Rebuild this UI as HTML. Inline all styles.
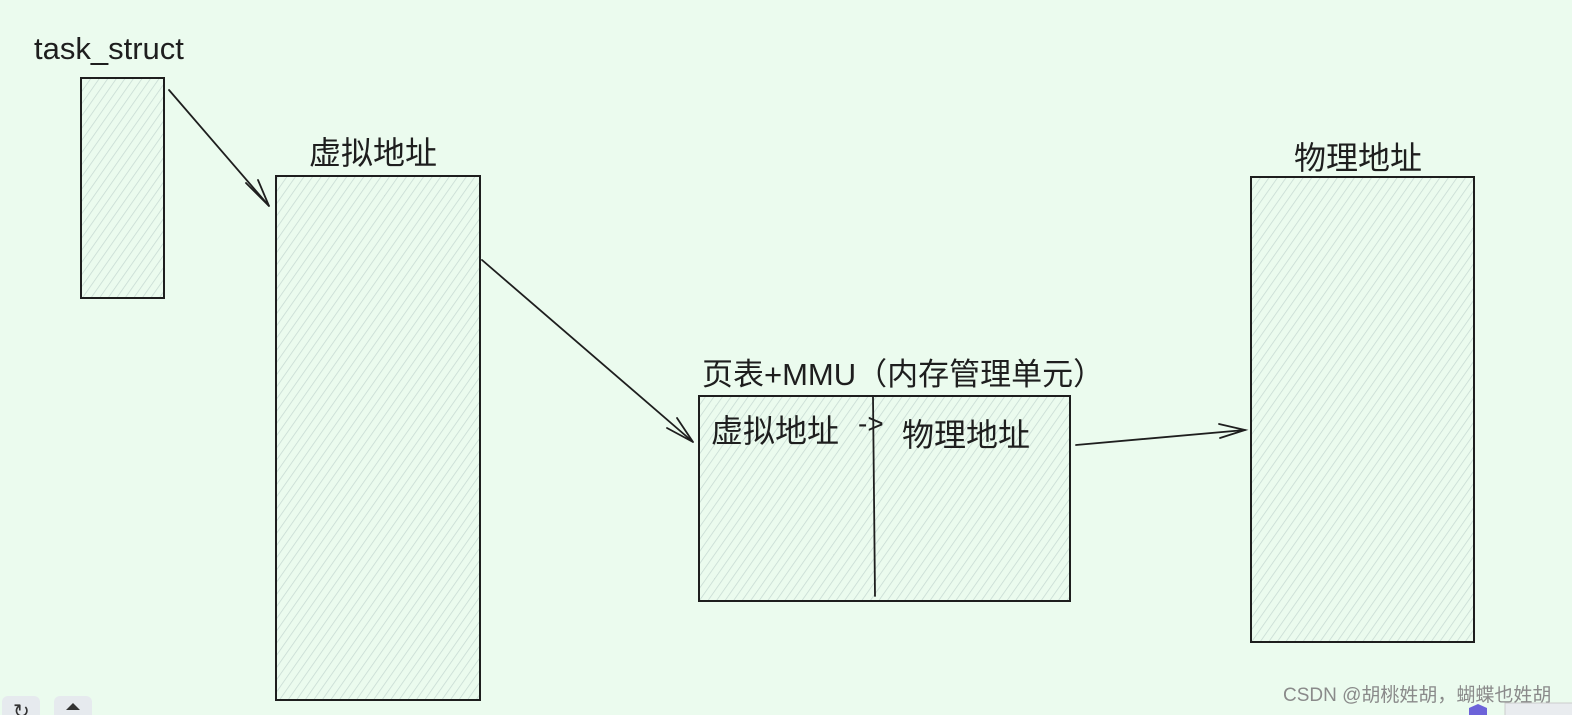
<!DOCTYPE html>
<html><head><meta charset="utf-8"><style>
html,body{margin:0;padding:0;background:#ebfbee;overflow:hidden}
svg{display:block}
text{font-family:"Liberation Sans","Noto Sans CJK SC",sans-serif;fill:#1e1e1e}
</style></head><body>
<svg width="1572" height="715" viewBox="0 0 1572 715" xmlns="http://www.w3.org/2000/svg">
<defs>
<pattern id="h" width="7" height="7" patternUnits="userSpaceOnUse" patternTransform="rotate(35)">
<line x1="0" y1="0" x2="0" y2="7" stroke="#c6d9d2" stroke-width="1.5"/>
</pattern>
</defs>
<rect width="1572" height="715" fill="#ebfbee"/>
<g stroke="#1e1e1e" stroke-width="2">
<rect x="81" y="78" width="83" height="220" fill="url(#h)"/>
<rect x="276" y="176" width="204" height="524" fill="url(#h)"/>
<rect x="699" y="396" width="371" height="205" fill="url(#h)"/>
<rect x="1251" y="177" width="223" height="465" fill="url(#h)"/>
</g>
<g stroke="#1e1e1e" stroke-width="1.8" fill="none" stroke-linecap="round">
<line x1="873" y1="397" x2="875" y2="596"/>
<line x1="169" y1="90" x2="269" y2="206"/>
<polyline points="246,183 269,206 258,180"/>
<line x1="482" y1="260" x2="693" y2="442"/>
<polyline points="667,428 693,442 677,418"/>
<line x1="1076" y1="445" x2="1245" y2="430"/>
<polyline points="1219,424 1245,430 1220,438"/>
</g>
<text x="34" y="59" font-size="31">task_struct</text>
<text x="309" y="164" font-size="32">虚拟地址</text>
<text x="1294" y="169" font-size="32">物理地址</text>
<text x="702" y="385" font-size="31">页表+MMU（内存管理单元）</text>
<text x="711" y="442" font-size="32">虚拟地址</text>
<text x="858" y="433" font-size="28">-&gt;</text>
<text x="902" y="446" font-size="32">物理地址</text>
<text x="1283" y="701" font-size="19" style="fill:#8a8a8a">CSDN @胡桃姓胡，蝴蝶也姓胡</text>
<rect x="2" y="696" width="38" height="30" rx="6" fill="#e6eaee"/>
<rect x="54" y="696" width="38" height="30" rx="6" fill="#e6eaee"/>
<text x="13" y="718" font-size="20" style="fill:#333">↻</text>
<polygon points="73,703 80,710 66,710" fill="#333"/>
<polygon points="1469,715 1469,708 1478,704 1487,708 1487,715" fill="#6c63d9"/>
<rect x="1505" y="703" width="70" height="20" fill="#e9ecef" stroke="#ccc"/>
</svg>
</body></html>
